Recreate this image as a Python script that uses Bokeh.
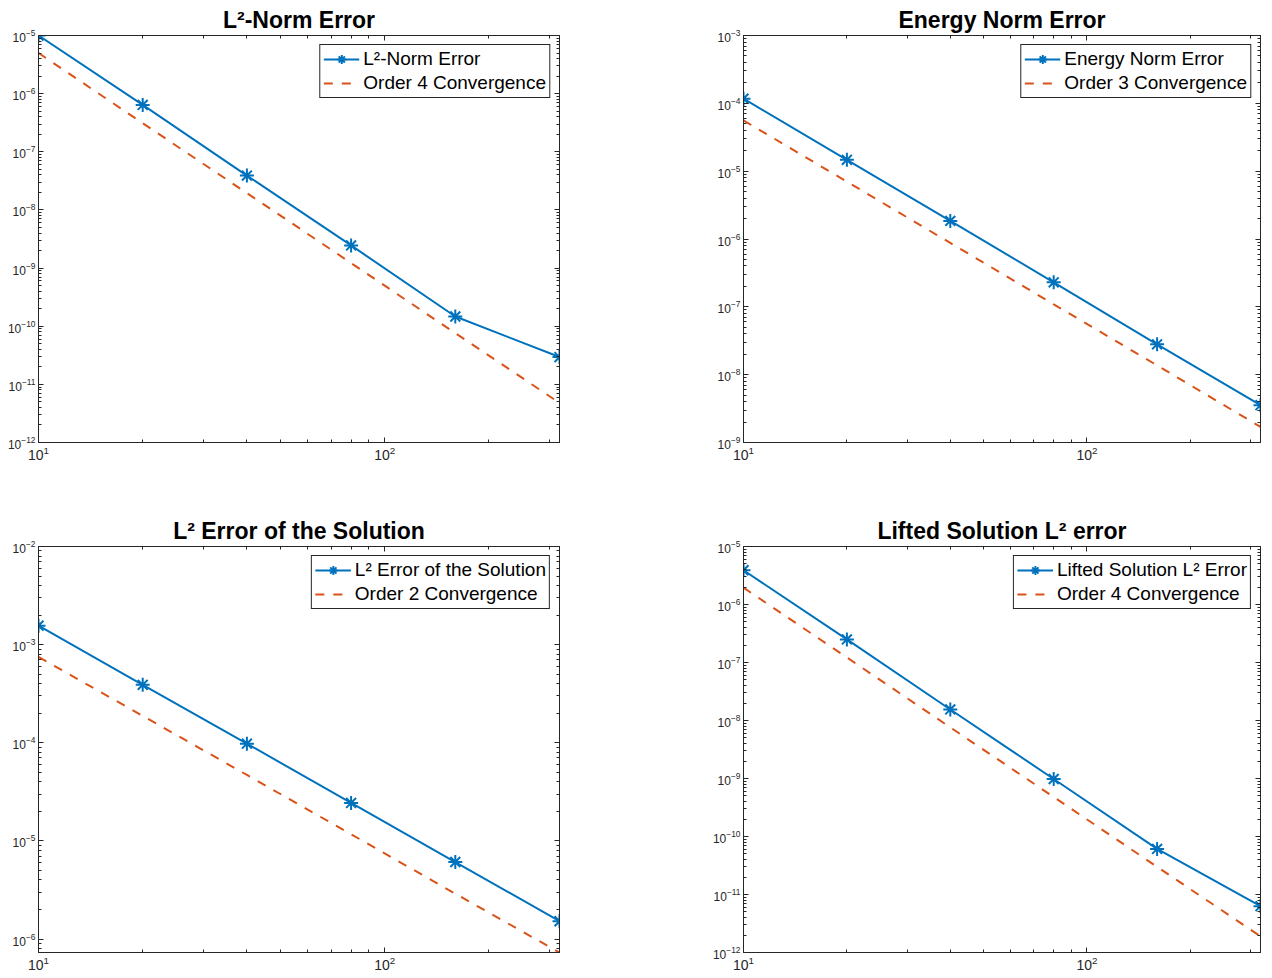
from bokeh.plotting import figure
from bokeh.models import LogAxis, FixedTicker, Legend, LegendItem, Range1d
from bokeh.layouts import column, row
from bokeh.embed import file_html
from bokeh.resources import INLINE

# ---------------- data ----------------
n_elements = [10, 20, 40, 80, 160, 320]

l2_norm_error = [1.0e-5, 6.4e-7, 3.9e-8, 2.45e-9, 1.47e-10, 2.95e-11]
order4_ref_a = [5.0e-6, 3.1e-7, 1.95e-8, 1.22e-9, 7.6e-11, 4.8e-12]

energy_norm_error = [1.17e-4, 1.47e-5, 1.85e-6, 2.3e-7, 2.8e-8, 3.55e-9]
order3_ref = [5.6e-5, 7.0e-6, 8.75e-7, 1.09e-7, 1.37e-8, 1.7e-9]

solution_l2_error = [1.56e-3, 3.9e-4, 9.8e-5, 2.44e-5, 6.1e-6, 1.52e-6]
order2_ref = [7.5e-4, 1.88e-4, 4.7e-5, 1.17e-5, 2.9e-6, 7.3e-7]

lifted_l2_error = [3.9e-6, 2.5e-7, 1.55e-8, 9.8e-10, 6.1e-11, 6.3e-12]
order4_ref_b = [1.95e-6, 1.22e-7, 7.6e-9, 4.8e-10, 3.0e-11, 1.9e-12]

titles = ["L²-Norm Error", "Energy Norm Error", "L² Error of the Solution", "Lifted Solution L² error"]
err_labels = ["L²-Norm Error", "Energy Norm Error", "L² Error of the Solution", "Lifted Solution L² Error"]
ref_labels = ["Order 4 Convergence", "Order 3 Convergence", "Order 2 Convergence", "Order 4 Convergence"]
y_limits = [(1e-12, 1e-5), (1e-9, 1e-3), (7.3e-7, 1e-2), (1e-12, 1e-5)]
x_limits = (10, 320)

BLUE = "#0072BD"
ORANGE = "#D95319"
AX = "#262626"
FONT = "Liberation Sans"


def decade_ticks(lo, hi):
    import math
    a = math.floor(math.log10(lo))
    b = math.ceil(math.log10(hi))
    major = [10.0 ** k for k in range(a, b + 1)]
    minor = [m * 10.0 ** k for k in range(a, b + 1) for m in range(2, 10)]
    return major, minor


def panel(idx, err, ref, fw, fh, bl, br, bt, bb):
    ylo, yhi = y_limits[idx]
    p = figure(
        x_axis_type="log", y_axis_type="log",
        x_range=Range1d(*x_limits), y_range=Range1d(ylo, yhi),
        frame_width=fw, frame_height=fh,
        min_border_left=bl, min_border_right=br, min_border_top=bt, min_border_bottom=bb,
        output_backend="svg", toolbar_location=None, title=titles[idx],
    )
    p.title.align = "center"
    p.title.text_font = FONT
    p.title.text_font_size = "23px"
    p.title.text_font_style = "bold"
    p.title.text_color = "black"
    p.title.standoff = 5
    p.xgrid.visible = False
    p.ygrid.visible = False
    p.outline_line_color = AX
    p.outline_line_width = 1
    p.outline_line_alpha = 1

    xmaj, xmin = decade_ticks(*x_limits)
    ymaj, ymin = decade_ticks(ylo, yhi)

    for ax, maj, mnr, fs in ((p.xaxis[0], xmaj, xmin, "14px"), (p.yaxis[0], ymaj, ymin, "12px")):
        ax.ticker = FixedTicker(ticks=maj, minor_ticks=mnr)
        ax.major_tick_in = 5
        ax.major_tick_out = 0
        ax.minor_tick_in = 3
        ax.minor_tick_out = 0
        ax.axis_line_color = AX
        ax.major_tick_line_color = AX
        ax.minor_tick_line_color = AX
        ax.major_label_text_font = FONT
        ax.major_label_text_font_size = fs
        ax.major_label_text_color = AX
        ax.major_label_standoff = 3

    for loc, maj, mnr in (("above", xmaj, xmin), ("right", ymaj, ymin)):
        a = LogAxis(ticker=FixedTicker(ticks=maj, minor_ticks=mnr))
        a.major_tick_in = 5
        a.major_tick_out = 0
        a.minor_tick_in = 3
        a.minor_tick_out = 0
        a.major_label_text_font_size = "1px"
        a.major_label_text_alpha = 0
        a.major_label_standoff = 0
        a.axis_line_color = AX
        a.major_tick_line_color = AX
        a.minor_tick_line_color = AX
        p.add_layout(a, loc)

    l1 = p.line(n_elements, err, line_color=BLUE, line_width=2)
    s1 = p.scatter(n_elements, err, marker="asterisk", size=14, line_color=BLUE, line_width=2)
    l2 = p.line(n_elements, ref, line_color=ORANGE, line_width=2, line_dash="9 9")

    leg = Legend(items=[LegendItem(label=err_labels[idx], renderers=[l1, s1]),
                        LegendItem(label=ref_labels[idx], renderers=[l2])],
                 location="top_right")
    leg.label_text_font = FONT
    leg.label_text_font_size = "19px"
    leg.label_text_color = "black"
    leg.border_line_color = AX
    leg.border_line_width = 1
    leg.border_line_alpha = 1
    leg.glyph_width = 36
    leg.glyph_height = 22
    leg.label_height = 22
    leg.label_standoff = 4
    leg.spacing = 2
    leg.padding = 3
    leg.margin = 9
    leg.background_fill_alpha = 1
    p.add_layout(leg, "center")
    return p


p1 = panel(0, l2_norm_error, order4_ref_a, 521, 407, 38, 129, 35, 60)
p2 = panel(1, energy_norm_error, order3_ref, 517, 407, 55, 4, 35, 60)
p3 = panel(2, solution_l2_error, order2_ref, 521, 406, 38, 129, 44, 20)
p4 = panel(3, lifted_l2_error, order4_ref_b, 517, 406, 55, 4, 44, 20)

layout = column(row(p1, p2), row(p3, p4))
open("out.html", "w").write(file_html(layout, INLINE))
